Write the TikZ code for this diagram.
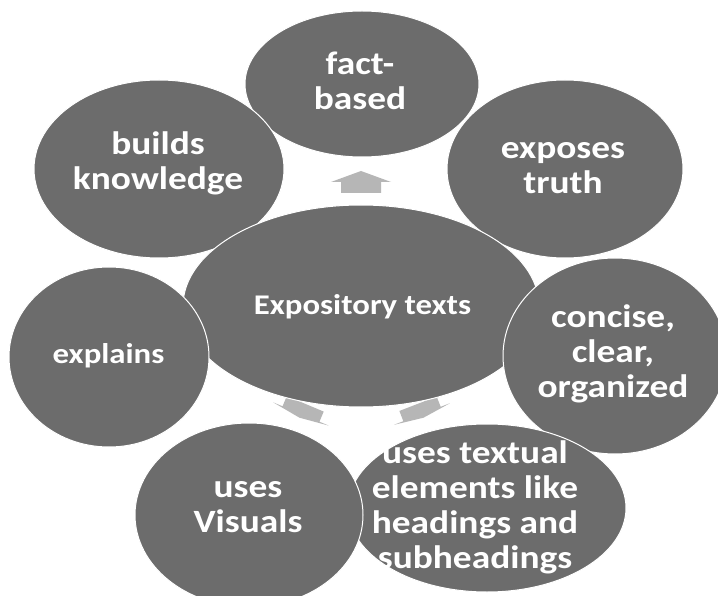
\documentclass[tikz,border=0pt]{standalone}
\usepackage{fontspec}
\setmainfont{Carlito}[FakeStretch=1.15]
\usetikzlibrary{shapes.geometric}
\definecolor{ellgray}{RGB}{108,108,108}
\definecolor{arrgray}{RGB}{182,182,182}
\tikzset{
  bubble/.style={ellipse, fill=ellgray, draw=white, line width=1pt, inner sep=0pt},
  lbl/.style={text=white, font=\bfseries\fontsize{32.5}{35}\selectfont, align=center, inner sep=0pt},
  lblsmall/.style={text=white, font=\bfseries\fontsize{28.5}{32}\selectfont, align=center, inner sep=0pt},
  blockarrow/.style={fill=arrgray, draw=none}
}
\begin{document}
\begin{tikzpicture}[x=1pt,y=-1pt]
\useasboundingbox (0,0) rectangle (718,596);
\clip (0,0) rectangle (718,596);
\fill[white] (0,0) rectangle (718,596);
% arrows (behind the bubbles): position / direction / head length
\coordinate (aup) at (361,182);
\coordinate (aleft) at (301,414);
\coordinate (aright) at (422,414);
\foreach \c/\a/\h in {aup/90/11, aleft/247.3/4, aright/-68.9/4}
  \fill[blockarrow, shift={(\c)}, rotate=\a]
    (\h,0) -- (0,30) -- (0,20) -- (-11,20) -- (-11,-20) -- (0,-20) -- (0,-30) -- cycle;
% bubbles
\node[bubble, minimum width=234pt, minimum height=146pt] (fact) at (362,84) {};
\node[bubble, minimum width=250pt, minimum height=178pt] (builds) at (159,169) {};
\node[bubble, minimum width=236pt, minimum height=178pt] (exposes) at (565,169) {};
\node[bubble, minimum width=356pt, minimum height=202pt] (center) at (361,306) {};
\node[bubble, minimum width=200pt, minimum height=180pt] (explains) at (109,357) {};
\node[bubble, minimum width=224pt, minimum height=196pt] (concise) at (615,356) {};
\node[bubble, minimum width=278pt, minimum height=168pt] (textual) at (487,508) {};
\node[bubble, minimum width=228pt, minimum height=184pt] (visuals) at (249,515) {};
% labels
\node[lbl] (tfact) at (360,81) {fact-\\based};
\node[lbl] (tbuilds) at (158,163) {builds\\knowledge};
\node[lbl] (texposes) at (563,168) {exposes\\truth};
\node[lblsmall] (tcenter) at (362.5,307) {Expository texts};
\node[lblsmall] (texplains) at (108.5,356) {explains};
\node[lbl] (tconcise) at (613,354) {concise,\\clear,\\organized};
\node[lbl] (ttextual) at (475,507) {uses textual\\elements like\\headings and\\subheadings};
\node[lbl] (tvisuals) at (248,507) {uses\\Visuals};
\end{tikzpicture}
\end{document}
